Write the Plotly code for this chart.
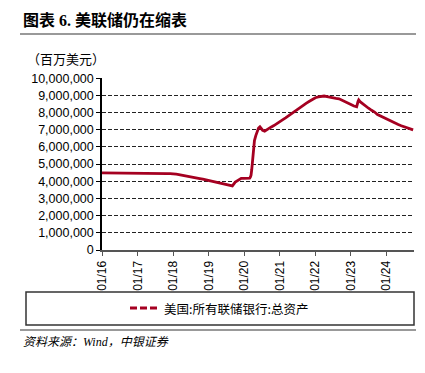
import plotly.graph_objects as go

dates = [
    "2016-01-01","2016-02-01","2016-03-01","2016-04-01","2016-05-01","2016-06-01",
    "2016-07-01","2016-08-01","2016-09-01","2016-10-01","2016-11-01","2016-12-01",
    "2017-01-01","2017-02-01","2017-03-01","2017-04-01","2017-05-01","2017-06-01",
    "2017-07-01","2017-08-01","2017-09-01","2017-10-01","2017-11-01","2017-12-01",
    "2018-01-01","2018-02-01","2018-03-01","2018-04-01","2018-05-01","2018-06-01",
    "2018-07-01","2018-08-01","2018-09-01","2018-10-01","2018-11-01","2018-12-01",
    "2019-01-01","2019-02-01","2019-03-01","2019-04-01","2019-05-01","2019-06-01",
    "2019-07-01","2019-08-01","2019-09-01","2019-10-01","2019-11-01","2019-12-01",
    "2020-01-01","2020-02-01","2020-02-26","2020-03-04","2020-03-11","2020-03-18",
    "2020-03-25","2020-04-01","2020-04-08","2020-04-15","2020-04-29","2020-05-13",
    "2020-05-27","2020-06-10","2020-06-24","2020-07-08","2020-07-29","2020-08-12",
    "2020-09-01","2020-10-01","2020-11-01","2020-12-01",
    "2021-01-01","2021-02-01","2021-03-01","2021-04-01","2021-05-01","2021-06-01",
    "2021-07-01","2021-08-01","2021-09-01","2021-10-01","2021-11-01","2021-12-01",
    "2022-01-01","2022-02-01","2022-03-01","2022-04-01","2022-05-01","2022-06-01",
    "2022-07-01","2022-08-01","2022-09-01","2022-10-01","2022-11-01","2022-12-01",
    "2023-01-01","2023-02-01","2023-03-01","2023-03-15","2023-03-22","2023-04-05",
    "2023-05-01","2023-06-01","2023-07-01","2023-08-01","2023-09-01","2023-10-01",
    "2023-11-01","2023-12-01",
    "2024-01-01","2024-02-01","2024-03-01","2024-04-01","2024-05-01","2024-06-01",
    "2024-07-01","2024-08-01","2024-09-01","2024-10-01",
]

total_assets = [
    4490000,4490000,4480000,4480000,4480000,4470000,4470000,4470000,4460000,4460000,4450000,4450000,
    4450000,4460000,4470000,4470000,4470000,4460000,4470000,4460000,4460000,4460000,4450000,4440000,
    4440000,4410000,4390000,4360000,4340000,4320000,4290000,4240000,4200000,4160000,4120000,4080000,
    4050000,4010000,3970000,3930000,3900000,3860000,3810000,3770000,3730000,3950000,4050000,4170000,
    4170000,4180000,4180000,4240000,4360000,4670000,5250000,5810000,6080000,6370000,6660000,6930000,
    7100000,7170000,7090000,6970000,6920000,6980000,7060000,7150000,7240000,7370000,
    7450000,7590000,7690000,7820000,7900000,8060000,8200000,8290000,8440000,8550000,8660000,8760000,
    8860000,8910000,8940000,8960000,8930000,8910000,8870000,8830000,8800000,8730000,8620000,8550000,
    8470000,8380000,8340000,8640000,8730000,8630000,8500000,8380000,8250000,8130000,8030000,7880000,
    7790000,7710000,
    7630000,7570000,7480000,7390000,7300000,7230000,7180000,7110000,7050000,6990000,
]

series_name = "美国:所有联储银行:总资产"
title_text = "图表 6. 美联储仍在缩表"
unit_text = "（百万美元）"
source_text = "资料来源：Wind，中银证券"

line_color = "#A50021"
cjk = "Noto Sans CJK SC"
latin = "Liberation Sans, Arial"

fig = go.Figure()
fig.add_trace(go.Scatter(
    x=dates, y=total_assets, mode="lines", name=series_name,
    line=dict(color=line_color, width=2.8), showlegend=False,
))

# page body has an 8px margin; figure is drawn offset by it
OFF = 8
W, H = 425 - OFF, 373 - OFF
PL, PR, PT, PB = 102, 414, 78, 250  # plot area in page pixels
L, T = PL - OFF, PT - OFF
R, B = W - (PR - OFF), H - (PB - OFF)
pw, ph = PR - PL, PB - PT

def px_x(x):
    return (x - PL) / pw

def px_y(y):
    return (PB - y) / ph

fig.update_layout(
    width=W, height=H,
    margin=dict(l=L, r=R, t=T, b=B, autoexpand=False),
    paper_bgcolor="white", plot_bgcolor="white",
    font=dict(family=latin, color="#000"),
    xaxis=dict(
        type="date",
        range=["2016-01-01", "2024-10-10"],
        tick0="2016-01-01", dtick="M12", tickformat="%m/%y",
        tickangle=-90, tickfont=dict(size=12, family=latin),
        showgrid=False, showline=True, linecolor="#555", linewidth=2,
        ticks="outside", ticklen=4, tickcolor="#555", tickwidth=1,
        zeroline=False,
    ),
    yaxis=dict(
        range=[0, 10010000], dtick=1000000, tickformat=",",
        tickfont=dict(size=12.5, family=latin),
        showgrid=True, gridcolor="#222", griddash="4px,2px", gridwidth=1,
        showline=True, linecolor="#000", linewidth=1.5,
        ticks="outside", ticklen=4, tickcolor="#000",
        zeroline=False,
    ),
)

shapes = [
    dict(type="line", xref="paper", yref="paper", x0=px_x(20), x1=px_x(416),
         y0=px_y(34), y1=px_y(34), line=dict(color="#777", width=1.5)),
    dict(type="rect", xref="paper", yref="paper", x0=px_x(26), x1=px_x(414),
         y0=px_y(292), y1=px_y(325), line=dict(color="#333", width=1.5)),
    dict(type="line", xref="paper", yref="paper", x0=px_x(130), x1=px_x(158),
         y0=px_y(308), y1=px_y(308), line=dict(color=line_color, width=2.8, dash="7px,3px")),
    dict(type="line", xref="paper", yref="paper", x0=px_x(20), x1=px_x(416),
         y0=px_y(330), y1=px_y(330), line=dict(color="#777", width=1.5)),
]
fig.update_layout(shapes=shapes)

annotations = [
    dict(text="<b>" + title_text + "</b>", xref="paper", yref="paper",
         x=px_x(21), y=px_y(20), xanchor="left", yanchor="middle", showarrow=False,
         font=dict(size=16, family="Liberation Serif, " + cjk, color="#000")),
    dict(text=unit_text, xref="paper", yref="paper",
         x=px_x(25), y=px_y(58), xanchor="left", yanchor="middle", showarrow=False,
         font=dict(size=13, family=cjk, color="#000")),
    dict(text=series_name, xref="paper", yref="paper",
         x=px_x(162), y=px_y(308), xanchor="left", yanchor="middle", showarrow=False,
         font=dict(size=12.5, family=cjk, color="#000")),
    dict(text="<i>" + source_text + "</i>", xref="paper", yref="paper",
         x=px_x(21), y=px_y(342), xanchor="left", yanchor="middle", showarrow=False,
         font=dict(size=12, family="Liberation Serif, " + cjk, color="#000")),
]
fig.update_layout(annotations=annotations)

fig.write_html("out.html")
